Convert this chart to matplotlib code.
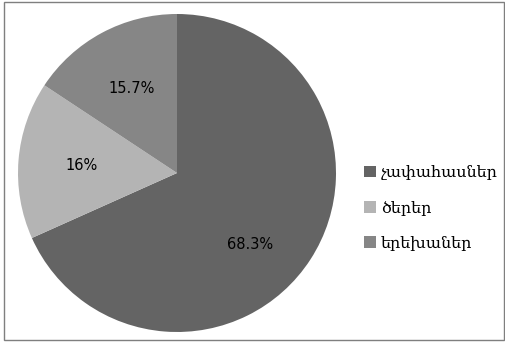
import matplotlib
matplotlib.use("Agg")
import matplotlib.pyplot as plt
from matplotlib.patches import Rectangle, Patch

categories = ["չափահասներ", "ծերեր", "երեխաներ"]
values = [68.3, 16.0, 15.7]
colors = ["#646464", "#b4b4b4", "#868686"]

fig = plt.figure(figsize=(5.05, 3.42), dpi=100)
fig.patch.set_facecolor("white")
ax = fig.add_axes([18/505, 10/342, 318/505, 318/342])
wedges, texts, autotexts = ax.pie(
    values, colors=colors, startangle=90, counterclock=False,
    autopct=lambda p: f"{p:g}%", pctdistance=0.6,
    textprops=dict(fontsize=10.5, color="black", family="DejaVu Sans"),
    wedgeprops=dict(linewidth=0))
# Excel-style placement of the large slice label
autotexts[0].set_position((0.46, -0.45))
ax.set_xlim(-1, 1); ax.set_ylim(-1, 1)
ax.set_aspect("auto")
ax.axis("off")

fig.patches.append(Rectangle((4/505, 2/342), 500/505, 338/342, transform=fig.transFigure,
                             fill=False, edgecolor="#7f7f7f", linewidth=1))

handles = [Patch(facecolor=c, edgecolor="none") for c in colors]
fig.legend(handles, categories, loc="center left", bbox_to_anchor=(350/505, 1 - 208/342),
           frameon=False, prop=dict(family="DejaVu Serif", size=11.5),
           handlelength=0.75, handleheight=0.75, handletextpad=0.3, labelspacing=1.15)

fig.savefig("out.png", dpi=100)
